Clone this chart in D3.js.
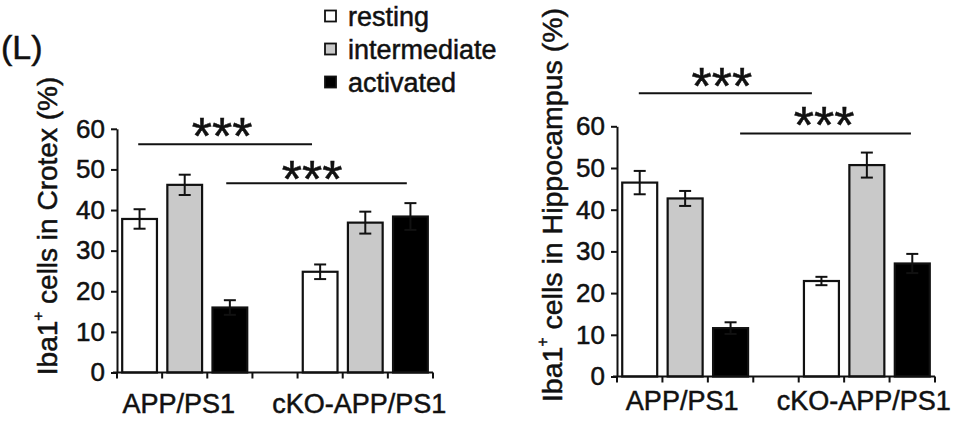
<!DOCTYPE html>
<html>
<head>
<meta charset="utf-8">
<script src="https://cdn.jsdelivr.net/npm/d3@7"></script>
<style>
  html, body { margin: 0; padding: 0; background: #fff; }
  svg { display: block; font-family: "Liberation Sans", Arial, sans-serif; }
  svg text { stroke: #111; stroke-width: 0.5px; }
</style>
</head>
<body>
<svg id="chart" width="960" height="424"></svg>
<script>
// ---------- data ----------
const groups = ["APP/PS1", "cKO-APP/PS1"];
const states = ["resting", "intermediate", "activated"];
const stateFill = ["#ffffff", "#c9c9c9", "#000000"];
const yTicks = [0, 10, 20, 30, 40, 50, 60];

// Cortex (left panel)
const cortexMean = [[37.8, 46.2, 16.0], [24.8, 36.9, 38.4]];
const cortexErr  = [[2.4, 2.5, 1.8], [1.8, 2.7, 3.3]];
// Hippocampus (right panel)
const hippoMean  = [[46.5, 42.7, 11.6], [22.9, 50.7, 27.1]];
const hippoErr   = [[2.8, 1.8, 1.4], [1.0, 3.0, 2.3]];

// significance brackets: [fromSlot, toSlot, yValue, starSlot, starY]
const cortexSig = [[0.47, 4.32, 56.2, 2.33, 61.2], [2.42, 6.42, 46.6, 4.32, 50.6]];
const hippoSig  = [[0.48, 4.29, 67.9, 2.31, 72.6], [2.71, 6.47, 58.3, 4.56, 63.1]];

// ---------- drawing ----------
const svg = d3.select("#chart");
svg.append("rect").attr("width", 960).attr("height", 424).attr("fill", "#fff");

const slots = [];
groups.forEach((g, gi) => {
  states.forEach((s, si) => slots.push(g + "|" + s));
  if (gi === 0) slots.push("gap");
});

function panel(cfg) {
  const x = d3.scaleBand().domain(slots).range(cfg.xr).paddingInner(0.23).paddingOuter(0.115);
  const step = x.step();
  const xs = d3.scaleLinear().domain([0, slots.length]).range(cfg.xr);
  const y = d3.scaleLinear().domain([0, 60]).range(cfg.yr);
  const g = svg.append("g");

  const bars = [];
  groups.forEach((gr, gi) => states.forEach((s, si) => {
    bars.push({key: gr + "|" + s, v: cfg.mean[gi][si], e: cfg.err[gi][si], si});
  }));

  // bars
  g.selectAll("rect.bar").data(bars).enter().append("rect")
    .attr("class", "bar")
    .attr("x", d => x(d.key))
    .attr("width", x.bandwidth())
    .attr("y", d => y(d.v))
    .attr("height", d => y(0) - y(d.v))
    .attr("fill", d => stateFill[d.si])
    .attr("stroke", "#111")
    .attr("stroke-width", 2.2);

  // error bars
  const cap = 6;
  const eb = g.selectAll("g.eb").data(bars).enter().append("g").attr("class", "eb")
    .attr("stroke", "#111").attr("stroke-width", 2);
  eb.append("line")
    .attr("x1", d => x(d.key) + x.bandwidth() / 2).attr("x2", d => x(d.key) + x.bandwidth() / 2)
    .attr("y1", d => y(d.v + d.e)).attr("y2", d => y(d.v - d.e));
  eb.append("line")
    .attr("x1", d => x(d.key) + x.bandwidth() / 2 - cap).attr("x2", d => x(d.key) + x.bandwidth() / 2 + cap)
    .attr("y1", d => y(d.v + d.e)).attr("y2", d => y(d.v + d.e));
  eb.append("line")
    .attr("x1", d => x(d.key) + x.bandwidth() / 2 - cap).attr("x2", d => x(d.key) + x.bandwidth() / 2 + cap)
    .attr("y1", d => y(d.v - d.e)).attr("y2", d => y(d.v - d.e));

  // y axis
  const ya = g.append("g").attr("transform", `translate(${cfg.xr[0]},0)`)
    .call(d3.axisLeft(y).tickValues(yTicks).tickSize(6).tickPadding(6).tickSizeOuter(0));
  ya.select(".domain").attr("stroke", "#111").attr("stroke-width", 2);
  ya.selectAll(".tick line").attr("stroke", "#111").attr("stroke-width", 2);
  ya.selectAll(".tick text").attr("font-size", 26).attr("fill", "#111")
    .attr("font-family", "'Liberation Sans', Arial, sans-serif");

  // x axis
  const xa = g.append("g").attr("stroke", "#111").attr("stroke-width", 2);
  xa.append("line").attr("x1", cfg.xr[0] - 4).attr("x2", cfg.xr[1]).attr("y1", y(0)).attr("y2", y(0));
  xa.selectAll("line.t").data(d3.range(slots.length + 1)).enter().append("line")
    .attr("class", "t")
    .attr("x1", i => cfg.xr[0] + i * step).attr("x2", i => cfg.xr[0] + i * step)
    .attr("y1", y(0)).attr("y2", y(0) + 6);

  // group labels
  g.selectAll("text.grp").data(groups).enter().append("text")
    .attr("class", "grp")
    .attr("x", d => x(d + "|intermediate") + x.bandwidth() / 2 + cfg.labDx)
    .attr("y", cfg.labY)
    .attr("text-anchor", "middle")
    .attr("font-size", 27).attr("fill", "#111")
    .text(d => d);

  // y title
  const t = g.append("text")
    .attr("transform", `translate(${cfg.titleX},${cfg.titleY}) rotate(-90)`)
    .attr("text-anchor", "middle")
    .attr("dominant-baseline", "central")
    .attr("font-size", cfg.titleSize).attr("fill", "#111");
  t.append("tspan").text("Iba1");
  t.append("tspan").attr("font-size", cfg.titleSize * 0.55).attr("dy", -10).text("+");
  t.append("tspan").attr("dy", 10).text(" cells in " + cfg.region + " (%)");

  // significance
  const sg = g.selectAll("g.sig").data(cfg.sig).enter().append("g").attr("class", "sig");
  sg.append("line")
    .attr("x1", d => xs(d[0])).attr("x2", d => xs(d[1]))
    .attr("y1", d => y(d[2])).attr("y2", d => y(d[2]))
    .attr("stroke", "#111").attr("stroke-width", 2);
  sg.append("text")
    .attr("x", d => xs(d[3]))
    .attr("y", d => y(d[4]) + 30)
    .attr("text-anchor", "middle")
    .attr("font-size", 52).attr("fill", "#111")
    .text("***");
}

panel({xr: [117, 433], yr: [372.5, 128.8], mean: cortexMean, err: cortexErr,
       region: "Crotex", titleX: 47, titleY: 226, titleSize: 28, labY: 413, labDx: -6, sig: cortexSig});
panel({xr: [617, 935], yr: [376.5, 126.3], mean: hippoMean, err: hippoErr,
       region: "Hippocampus", titleX: 552, titleY: 205, titleSize: 28.5, labY: 410, labDx: -3, sig: hippoSig});

// panel letter
svg.append("text").attr("x", 1).attr("y", 59).attr("font-size", 34).attr("fill", "#111").text("(L)");

// legend
const lg = svg.append("g");
const li = lg.selectAll("g").data(states).enter().append("g")
  .attr("transform", (d, i) => `translate(325,${16 + i * 33})`);
li.append("rect").attr("x", 0).attr("y", -5.5).attr("width", 11).attr("height", 11)
  .attr("fill", (d, i) => stateFill[i]).attr("stroke", "#111").attr("stroke-width", 1.8);
li.append("text").attr("x", 23).attr("y", 9.5).attr("font-size", 27).attr("fill", "#111").text(d => d);
</script>
</body>
</html>
